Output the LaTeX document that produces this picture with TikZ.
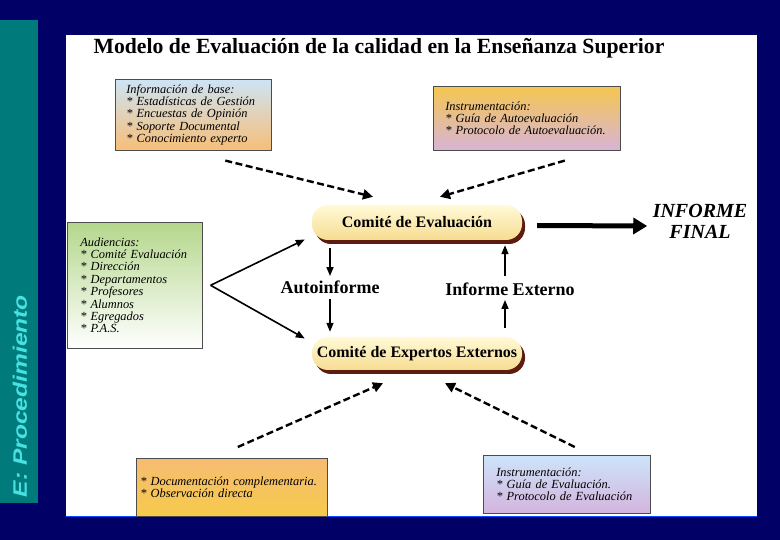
\documentclass[tikz,border=0pt]{standalone}
\usepackage{fontspec}
\setmainfont{Liberation Serif}
\setsansfont{Liberation Sans}
\usetikzlibrary{arrows.meta,shadows}

\definecolor{navyback}{RGB}{0,0,102}
\definecolor{tealbar}{RGB}{0,122,122}
\definecolor{cyantext}{RGB}{70,225,225}
\definecolor{pillshadow}{RGB}{92,28,16}

\begin{document}
\begin{tikzpicture}[x=1pt,y=-1pt,
    infobox/.style={draw=gray!60!black,line width=0.6pt,anchor=north west,
        align=left,font=\fontsize{12.4}{12.4}\selectfont\itshape},
    pill/.style={rounded corners=16pt,minimum width=210pt,
        top color={rgb,255:red,255;green,250;blue,215},
        bottom color={rgb,255:red,247;green,220;blue,145},
        drop shadow={shadow xshift=3pt,shadow yshift=-4pt,fill=pillshadow,opacity=1},
        font=\fontsize{16}{18}\selectfont\bfseries},
    dasharrow/.style={line width=2.4pt,dash pattern=on 7pt off 3.5pt,
        -{Triangle[length=10pt,width=10pt]}},
    solidarrow/.style={line width=1.6pt,-{Triangle[length=9pt,width=7pt]}},
    flowtext/.style={font=\fontsize{18}{20}\selectfont\bfseries}
]
    % background and panels
    \fill[navyback] (0,0) rectangle (780,540);
    \fill[tealbar] (0,20) rectangle (38,503);
    \node[rotate=90,text=cyantext,font=\sffamily\bfseries\itshape\fontsize{19.5}{21}\selectfont]
        (side) at (20,396) {\scalebox{1.26}[1]{E: Procedimiento}};
    \fill[white] (66,35) rectangle (757,517);
    \draw[blue!70!cyan,line width=1pt] (66,516.5) -- (757,516.5);

    \node[font=\fontsize{21.7}{24}\selectfont\bfseries] (title) at (379,48)
        {Modelo de Evaluación de la calidad en la Enseñanza Superior};

    % input boxes
    \node[infobox,minimum width=156pt,minimum height=71pt,inner xsep=11pt,text width=134pt,
        top color={rgb,255:red,205;green,228;blue,245},bottom color={rgb,255:red,247;green,190;blue,120}]
        (base) at (115,79) {Información de base:\\{*} Estadísticas de Gestión\\{*} Encuestas de Opinión\\{*} Soporte Documental\\{*} Conocimiento experto};
    \node[infobox,minimum width=187pt,minimum height=64pt,inner xsep=12pt,text width=163pt,
        top color={rgb,255:red,245;green,198;blue,80},bottom color={rgb,255:red,215;green,180;blue,215}]
        (instauto) at (433,86) {Instrumentación:\\{*} Guía de Autoevaluación\\{*} Protocolo de Autoevaluación.};
    \node[infobox,minimum width=135pt,minimum height=126pt,inner xsep=13pt,text width=109pt,
        top color={rgb,255:red,180;green,215;blue,140},bottom color=white]
        (audience) at (67,222) {Audiencias:\\{*} Comité Evaluación\\{*} Dirección\\{*} Departamentos\\{*} Profesores\\{*} Alumnos\\{*} Egregados\\{*} P.A.S.};
    \node[infobox,minimum width=191pt,minimum height=58pt,inner xsep=4pt,text width=183pt,
        top color={rgb,255:red,246;green,188;blue,115},bottom color={rgb,255:red,246;green,202;blue,75}]
        (docs) at (136,458) {{*} Documentación complementaria.\\{*} Observación directa};
    \node[infobox,minimum width=167pt,minimum height=58pt,inner xsep=13pt,text width=141pt,
        top color={rgb,255:red,205;green,228;blue,250},bottom color={rgb,255:red,212;green,180;blue,222}]
        (instext) at (483,455) {Instrumentación:\\{*} Guía de Evaluación.\\{*} Protocolo de Evaluación};

    % committees
    \node[pill,minimum height=35pt] (eval) at (417,222.5) {Comité de Evaluación};
    \node[pill,minimum height=33pt] (experts) at (417,353.5) {Comité de Expertos Externos};

    \node[flowtext] (auto) at (330,287) {Autoinforme};
    \node[flowtext] (extern) at (510,289) {Informe Externo};
    \node[font=\fontsize{20}{21}\selectfont\bfseries\itshape,align=center] (final) at (700,221)
        {INFORME\\FINAL};

    % dashed inputs
    \draw[dasharrow] ([xshift=32pt,yshift=-10pt]base.south) -- ([xshift=-44pt,yshift=8pt]eval.north);
    \draw[dasharrow] ([xshift=38pt,yshift=-10pt]instauto.south) -- ([xshift=23pt,yshift=8pt]eval.north);
    \draw[dasharrow] ([xshift=6pt,yshift=11pt]docs.north) -- ([xshift=-34pt,yshift=-13pt]experts.south);
    \draw[dasharrow] ([xshift=8pt,yshift=8pt]instext.north) -- ([xshift=28pt,yshift=-13pt]experts.south);

    % audiences
    \draw[solidarrow] ([xshift=8pt]audience.east) -- ([xshift=-7pt,yshift=-17pt]eval.west);
    \draw[solidarrow] ([xshift=8pt]audience.east) -- ([xshift=-7pt,yshift=15pt]experts.west);

    % reports
    \draw[solidarrow] ([xshift=-87pt,yshift=-8pt]eval.south) -- ([yshift=1pt]auto.north);
    \draw[solidarrow] ([yshift=-2pt]auto.south) -- ([xshift=-87pt,yshift=5pt]experts.north);
    \draw[solidarrow] ([xshift=88pt,yshift=9pt]experts.north) -- ([xshift=-5pt,yshift=-1pt]extern.south);
    \draw[solidarrow] ([xshift=-5pt,yshift=3pt]extern.north) -- ([xshift=88pt,yshift=-5pt]eval.south);

    \draw[line width=5pt,-{Triangle[length=14pt,width=16pt]}]
        ([xshift=15pt,yshift=-3pt]eval.east) -- ([xshift=-2pt,yshift=-5pt]final.west);
\end{tikzpicture}
\end{document}
